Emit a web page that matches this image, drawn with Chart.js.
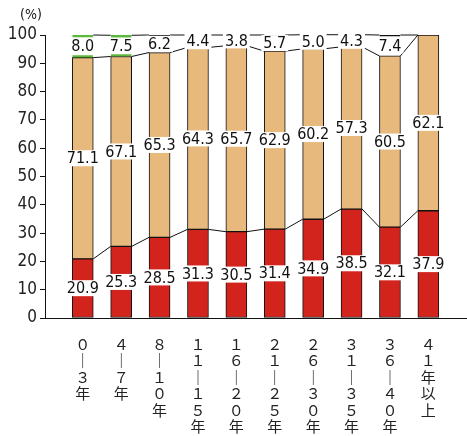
<!DOCTYPE html>
<html>
<head>
<meta charset="utf-8">
<script src="https://cdn.jsdelivr.net/npm/chart.js@4"></script>
<style>
  html, body { margin: 0; padding: 0; background: #fff; }
  #wrap { width: 467px; height: 436px; }
</style>
</head>
<body>
<div id="wrap"><canvas id="c" width="467" height="436"></canvas></div>
<script>
'use strict';

// ── Data ──────────────────────────────────────────
const ranges  = ['０｜３年', '４｜７年', '８｜１０年', '１１｜１５年', '１６｜２０年',
                 '２１｜２５年', '２６｜３０年', '３１｜３５年', '３６｜４０年', '４１年以上'];
const redVals = [20.9, 25.3, 28.5, 31.3, 30.5, 31.4, 34.9, 38.5, 32.1, 37.9];
const tanVals = [71.1, 67.1, 65.3, 64.3, 65.7, 62.9, 60.2, 57.3, 60.5, 62.1];
const topVals = [8.0, 7.5, 6.2, 4.4, 3.8, 5.7, 5.0, 4.3, 7.4, 0];
const yTicks  = [0, 10, 20, 30, 40, 50, 60, 70, 80, 90, 100];

const RED = '#d2231d', TAN = '#e7b97c', GREEN = '#5cb83c';
const NARROW = "'Liberation Sans Narrow', 'DejaVu Sans Condensed', 'Arial Narrow', sans-serif";

const xLabels = ranges.map(s => Array.from(s));
const pts = arr => arr.map((v, i) => ({ x: i, y: v }));

// ── Series lines + value labels ───────────────────
const overlay = {
  id: 'overlay',
  afterDatasetsDraw(chart) {
    const { ctx, scales: { y } } = chart;
    const metas = [0, 1, 2].map(d => chart.getDatasetMeta(d));
    const series = [redVals, tanVals, topVals];

    ctx.save();
    // connector lines between bars
    ctx.strokeStyle = '#111';
    ctx.lineWidth = 1;
    let cum = redVals.map(() => 0);
    series.forEach((vals, s) => {
      cum = cum.map((c, i) => c + vals[i]);
      const els = metas[s].data;
      for (let i = 0; i < els.length - 1; i++) {
        const a = els[i], b = els[i + 1];
        ctx.beginPath();
        ctx.moveTo(a.x + a.width / 2, y.getPixelForValue(cum[i]));
        ctx.lineTo(b.x - b.width / 2, y.getPixelForValue(cum[i + 1]));
        ctx.stroke();
      }
    });

    // value labels on white boxes
    ctx.font = '16px ' + NARROW;
    ctx.textAlign = 'center';
    ctx.textBaseline = 'middle';
    series.forEach((vals, s) => {
      metas[s].data.forEach((el, i) => {
        if (!vals[i]) return;
        const txt = vals[i].toFixed(1);
        const cy = (el.y + el.base) / 2;
        const w = ctx.measureText(txt).width + 4;
        ctx.fillStyle = '#fff';
        ctx.fillRect(el.x - w / 2, cy - 8, w, 16);
        ctx.fillStyle = '#111';
        ctx.fillText(txt, el.x, cy + 1);
      });
    });

    // unit label
    ctx.font = '14px ' + NARROW;
    ctx.fillText('(%)', 31, 15);
    ctx.restore();
  }
};

new Chart(document.getElementById('c'), {
  type: 'bar',
  data: {
    datasets: [
      { data: pts(redVals), backgroundColor: RED, borderColor: '#111',
        borderWidth: 1, borderSkipped: false, barThickness: 21 },
      { data: pts(tanVals), backgroundColor: TAN, borderColor: '#111',
        borderWidth: 1, borderSkipped: false, barThickness: 21 },
      { data: pts(topVals), backgroundColor: 'rgba(255,255,255,0)',
        borderColor: c => c.dataIndex < 2 ? GREEN : '#111',
        borderWidth: c => c.dataIndex < 2 ? { top: 2, bottom: 2, left: 0, right: 0 }
                                            : { top: 1, bottom: 0, left: 0, right: 0 },
        borderSkipped: false, barThickness: 21 }
    ]
  },
  options: {
    responsive: false,
    animation: false,
    layout: { padding: { top: 35, left: 0, right: 0, bottom: 0 } },
    plugins: { legend: { display: false }, tooltip: { enabled: false } },
    scales: {
      x: {
        type: 'linear',
        stacked: true,
        min: -0.434,
        max: 9.457,
        afterBuildTicks: s => { s.ticks = ranges.map((_, i) => ({ value: i })); },
        afterFit: s => { s.height = 118; },
        grid: { display: false, drawTicks: false },
        border: { display: true, color: '#111', width: 1 },
        ticks: {
          callback: v => xLabels[v],
          autoSkip: false,
          maxRotation: 0,
          padding: 18,
          color: '#222',
          font: { size: 15, family: "'Noto Sans CJK JP', sans-serif", lineHeight: 1.1 }
        }
      },
      y: {
        stacked: true,
        min: 0,
        max: 100,
        afterBuildTicks: s => { s.ticks = yTicks.map(v => ({ value: v })); },
        afterFit: s => { s.width = 45; },
        grid: { drawOnChartArea: false, tickLength: 5, color: '#111' },
        border: { display: true, color: '#111', width: 1 },
        ticks: {
          padding: 3,
          color: '#222',
          font: { size: 17, family: NARROW }
        }
      }
    }
  },
  plugins: [overlay]
});
</script>
</body>
</html>
